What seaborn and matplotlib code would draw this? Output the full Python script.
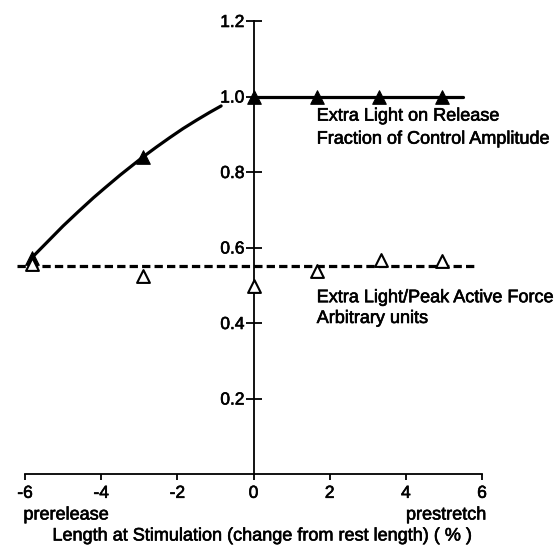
import numpy as np
import pandas as pd
import matplotlib
matplotlib.use("Agg")
import matplotlib.pyplot as plt
import matplotlib.patheffects as pe
import seaborn as sns

# ---- data ----
release_x = [-5.82, -2.9, 0.0, 1.66, 3.3, 4.95]
release_y = [0.573, 0.84, 1.0, 1.0, 1.0, 1.0]

curve_x = [-5.82, -5.0, -4.6, -4.2, -3.9, -3.5, -2.9, -2.55, -2.2, -1.85, -1.5, -1.15, -0.85]
curve_y = [0.573, 0.657, 0.695, 0.732, 0.758, 0.792, 0.84, 0.866, 0.891, 0.915, 0.937, 0.958, 0.975]

plateau_x = [0.0, 1.66, 3.3, 4.95, 5.5]
plateau_y = [1.0, 1.0, 1.0, 1.0, 1.0]

force_x = [-5.82, -2.9, 0.0, 1.66, 3.34, 4.95]
force_y = [0.555, 0.524, 0.497, 0.537, 0.568, 0.563]

mean_x = [-6.2, 5.85]
mean_y = [0.55, 0.55]

x_ticks = [-6, -4, -2, 0, 2, 4, 6]
x_ticklabels = ["-6", "-4", "-2", "0", "2", "4", "6"]
y_ticks = [0.2, 0.4, 0.6, 0.8, 1.0, 1.2]
y_ticklabels = ["0.2", "0.4", "0.6", "0.8", "1.0", "1.2"]

sns.set_style("white")
plt.rcParams["font.family"] = ["Liberation Sans", "DejaVu Sans"]
plt.rcParams["axes.unicode_minus"] = False
plt.rcParams["text.color"] = "black"

fig = plt.figure(figsize=(5.57, 5.52), dpi=100)
ax = fig.add_axes([25 / 557, 78 / 552, 457 / 557, 453 / 552])

# lines
sns.lineplot(x=curve_x, y=curve_y, ax=ax, color="black", linewidth=2.3,
             sort=False, estimator=None, clip_on=False)
sns.lineplot(x=plateau_x, y=plateau_y, ax=ax, color="black", linewidth=2.3,
             sort=False, estimator=None, clip_on=False)
sns.lineplot(x=mean_x, y=mean_y, ax=ax, color="black", linewidth=2.3,
             sort=False, estimator=None, clip_on=False,
             linestyle=(0, (2.6, 1.3)))

# markers
sns.scatterplot(x=release_x, y=release_y, ax=ax, marker="^", s=95,
                color="black", edgecolor="black", linewidth=0.8,
                zorder=5, clip_on=False)
sns.scatterplot(x=force_x, y=force_y, ax=ax, marker="^", s=85,
                facecolor="white", edgecolor="black", linewidth=1.5,
                zorder=5, clip_on=False)

ax.set_xlim(-6, 6)
ax.set_ylim(0, 1.2)

for side in ["top", "right"]:
    ax.spines[side].set_visible(False)
ax.spines["left"].set_position(("data", 0))
ax.spines["left"].set_bounds(0, 1.2)
ax.spines["bottom"].set_bounds(-6, 6)
for side in ["left", "bottom"]:
    ax.spines[side].set_linewidth(1.3)
    ax.spines[side].set_color("black")

fs = 13
thick = [pe.withStroke(linewidth=0.45, foreground="black")]
ax.set_xticks(x_ticks)
ax.set_xticklabels(x_ticklabels, fontsize=12.5, path_effects=thick)
ax.set_yticks(y_ticks)
ax.set_yticklabels(y_ticklabels, fontsize=12.5, path_effects=thick)
ax.tick_params(axis="x", direction="out", length=4.5, width=1.3, pad=4,
               colors="black", bottom=True)
ax.tick_params(axis="y", direction="inout", length=11, width=1.3, pad=1,
               colors="black", left=True)

kw = dict(fontsize=fs, color="black", path_effects=thick)
ax.text(1.66, 0.948, "Extra Light on Release", va="center", ha="left", **kw)
ax.text(1.66, 0.887, "Fraction of Control Amplitude", va="center", ha="left", **kw)
ax.text(1.66, 0.467, "Extra Light/Peak Active Force", va="center", ha="left", **kw)
ax.text(1.66, 0.412, "Arbitrary units", va="center", ha="left", **kw)

fig.text(66 / 557, 1 - 515 / 552, "prerelease", ha="center", va="center", **kw)
fig.text(446 / 557, 1 - 515 / 552, "prestretch", ha="center", va="center", **kw)
fig.text(262 / 557, 1 - 536 / 552, "Length at Stimulation (change from rest length) ( % )",
         ha="center", va="center", **kw)

fig.savefig("out.png", dpi=100)
